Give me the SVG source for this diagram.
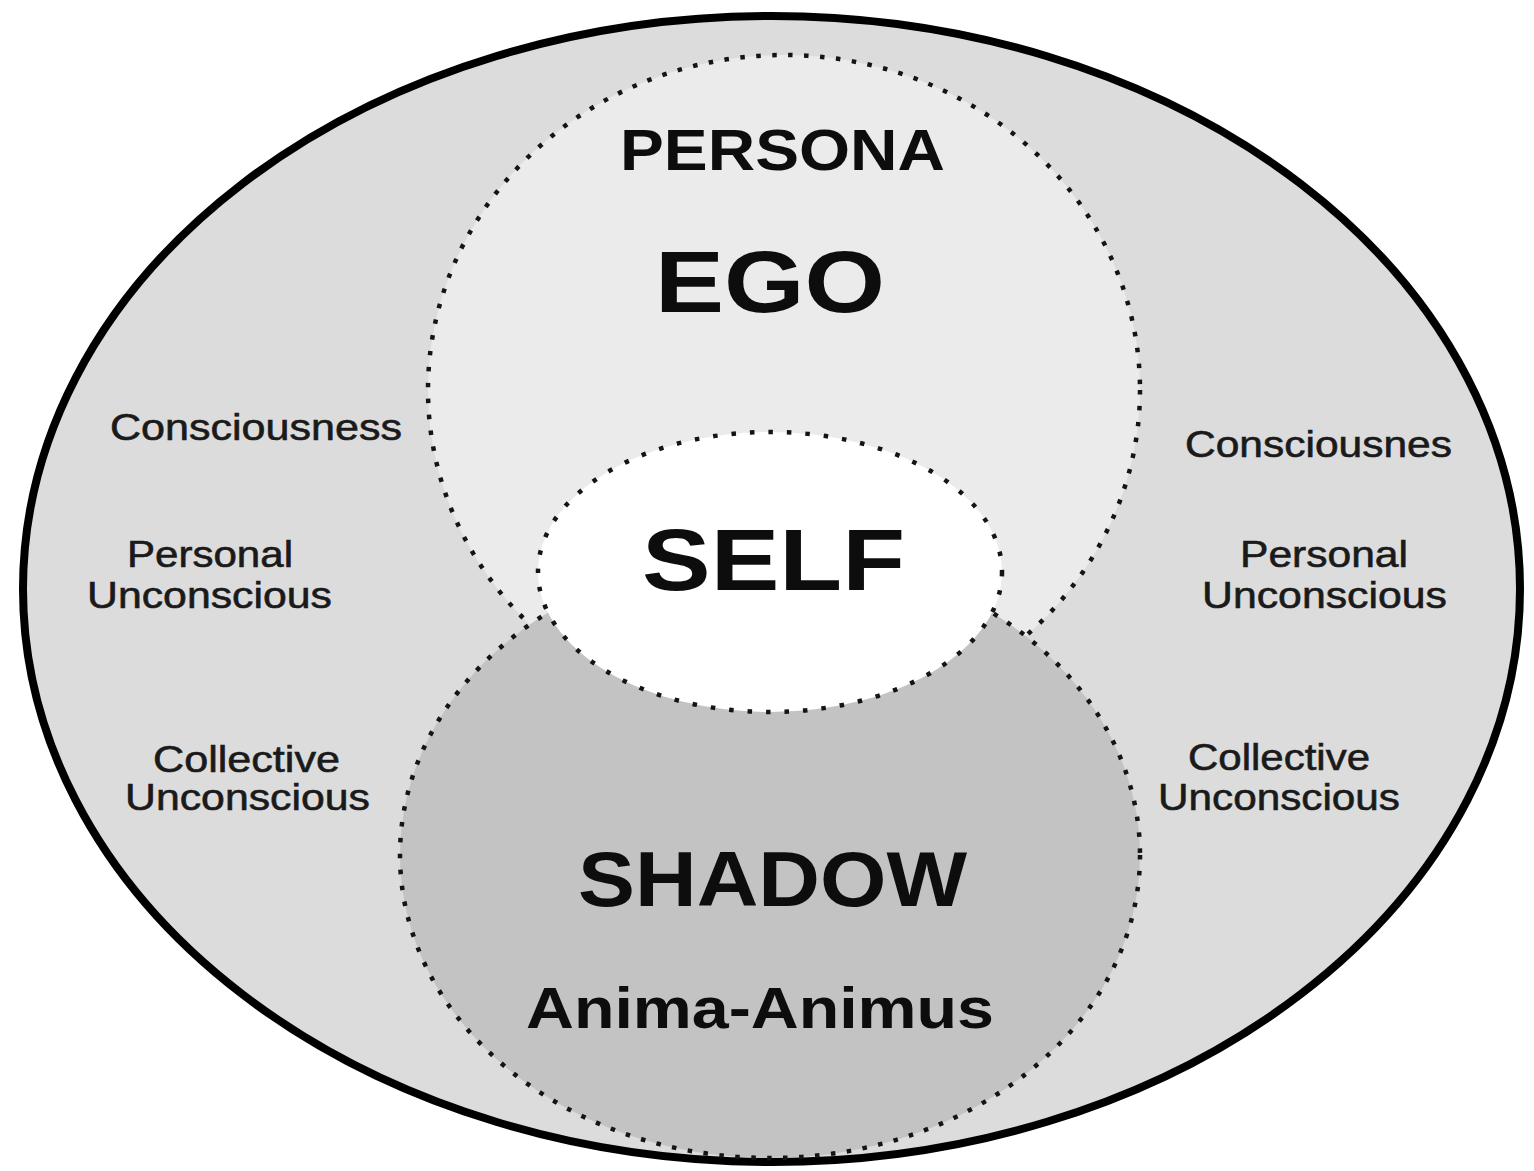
<svg xmlns="http://www.w3.org/2000/svg" width="1534" height="1171" viewBox="0 0 1534 1171">
  <style>
    .dotted { stroke: #141414; stroke-width: 4.5; stroke-dasharray: 4.5 11.5; }
    .big { font-family: "Liberation Sans", Arial, sans-serif; font-weight: bold; fill: #0d0d0d; }
    .side { font-family: "Liberation Sans", Arial, sans-serif; font-size: 37px; fill: #1a1a1a; stroke: #1a1a1a; stroke-width: 0.6; }
  </style>
  <rect width="1534" height="1171" fill="#ffffff"/>
  <g id="psyche">
    <ellipse cx="771.5" cy="589" rx="748.5" ry="573" fill="#dcdcdc" stroke="#000000" stroke-width="8"/>
    <text class="side" x="110" y="440" textLength="292" lengthAdjust="spacingAndGlyphs">Consciousness</text>
    <text class="side" x="127" y="567" textLength="166" lengthAdjust="spacingAndGlyphs">Personal</text>
    <text class="side" x="87" y="608" textLength="245" lengthAdjust="spacingAndGlyphs">Unconscious</text>
    <text class="side" x="153" y="772" textLength="187" lengthAdjust="spacingAndGlyphs">Collective</text>
    <text class="side" x="125" y="810" textLength="245" lengthAdjust="spacingAndGlyphs">Unconscious</text>
    <text class="side" x="1185" y="457" textLength="267" lengthAdjust="spacingAndGlyphs">Consciousnes</text>
    <text class="side" x="1240" y="567" textLength="168" lengthAdjust="spacingAndGlyphs">Personal</text>
    <text class="side" x="1202" y="608" textLength="245" lengthAdjust="spacingAndGlyphs">Unconscious</text>
    <text class="side" x="1188" y="770" textLength="182" lengthAdjust="spacingAndGlyphs">Collective</text>
    <text class="side" x="1158" y="810" textLength="242" lengthAdjust="spacingAndGlyphs">Unconscious</text>
  </g>
  <g id="ego">
    <ellipse class="dotted" cx="784" cy="390" rx="356" ry="335" fill="#ebebeb"/>
    <text class="big" x="620" y="170" font-size="58" textLength="325" lengthAdjust="spacingAndGlyphs">PERSONA</text>
    <text class="big" x="655" y="312" font-size="87" textLength="230" lengthAdjust="spacingAndGlyphs">EGO</text>
  </g>
  <g id="shadow">
    <ellipse class="dotted" cx="770" cy="855" rx="370" ry="303" fill="#c3c3c3"/>
    <text class="big" x="578" y="906" font-size="78" textLength="389" lengthAdjust="spacingAndGlyphs">SHADOW</text>
    <text class="big" x="526" y="1028" font-size="57" textLength="468" lengthAdjust="spacingAndGlyphs">Anima-Animus</text>
  </g>
  <g id="self">
    <ellipse class="dotted" cx="770" cy="572" rx="232" ry="140" fill="#ffffff" style="stroke-dasharray: 4.5 14"/>
    <text class="big" x="642" y="590" font-size="88" textLength="263" lengthAdjust="spacingAndGlyphs">SELF</text>
  </g>
</svg>
